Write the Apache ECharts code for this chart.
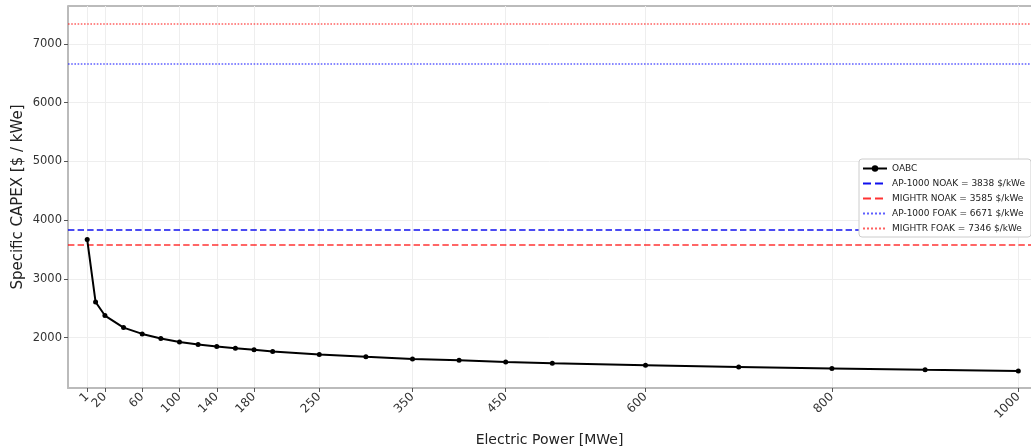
<!DOCTYPE html>
<html lang="en" style="height: 100%">
<head>
  <meta charset="utf-8">
</head>
<body style="height: 100%; margin: 0; background: #fff">
  <div id="container" style="width: 1031px; height: 448px"></div>

  <script type="text/javascript" src="https://fastly.jsdelivr.net/npm/echarts@6/dist/echarts.min.js"></script>
  <script type="text/javascript">
    // electric power [MWe] and specific capex [$/kWe] for the OABC curve
    var power = [1, 10, 20, 40, 60, 80, 100, 120, 140, 160, 180, 200, 250, 300, 350, 400, 450, 500, 600, 700, 800, 900, 1000];
    var capex = [3670, 2605, 2375, 2170, 2062, 1985, 1925, 1882, 1848, 1819, 1791, 1764, 1713, 1672, 1636, 1613, 1585, 1563, 1530, 1500, 1475, 1450, 1430];
    var xTicks = [1, 20, 60, 100, 140, 180, 250, 350, 450, 600, 800, 1000];
    var yTicks = [2000, 3000, 4000, 5000, 6000, 7000];

    // reference plants
    var refNames = ['AP-1000 NOAK', 'MIGHTR NOAK', 'AP-1000 FOAK', 'MIGHTR FOAK'];
    var refValues = [3838, 3585, 6671, 7346];
    var refColors = ['#1010ee', 'rgba(255,0,0,0.8)', 'rgba(40,40,255,0.75)', 'rgba(255,30,30,0.7)'];
    var refTypes = ['dashed', 'dashed', 'dotted', 'dotted'];

    var dom = document.getElementById('container');
    var myChart = echarts.init(dom, null, { renderer: 'canvas' });
    var font = 'DejaVu Sans';

    var series = [{
      name: 'OABC',
      type: 'line',
      data: power.map(function (p, i) { return [p, capex[i]]; }),
      symbol: 'circle',
      symbolSize: 5,
      itemStyle: { color: '#000' },
      lineStyle: { color: '#000', width: 2 },
      z: 5
    }];
    var legendData = [{ name: 'OABC' }];
    refNames.forEach(function (n, i) {
      var label = n + ' = ' + refValues[i] + ' $/kWe';
      legendData.push({ name: label, itemStyle: { opacity: 0 } });
      series.push({
        name: label,
        type: 'line',
        data: [],
        symbol: 'none',
        itemStyle: { color: refColors[i] },
        lineStyle: { color: refColors[i], type: refTypes[i], width: 1.6 },
        markLine: {
          silent: true,
          symbol: 'none',
          label: { show: false },
          lineStyle: { color: refColors[i], type: refTypes[i], width: 1.6 },
          data: [{ yAxis: refValues[i] }]
        }
      });
    });

    var option = {
      animation: false,
      textStyle: { fontFamily: font },
      grid: { left: 68, right: 0, top: 6, bottom: 60, containLabel: false, outerBoundsMode: 'none' },
      legend: {
        orient: 'vertical',
        left: 859,
        top: 159,
        z: 20,
        itemWidth: 24,
        itemHeight: 8,
        itemGap: 6,
        padding: [5, 6, 4, 3],
        borderColor: '#ccc',
        borderWidth: 1,
        borderRadius: 3,
        backgroundColor: '#fff',
        textStyle: { fontFamily: font, fontSize: 9, color: '#222' },
        data: legendData
      },
      xAxis: {
        type: 'value',
        min: -19.6,
        max: 1013.6,
        name: 'Electric Power [MWe]',
        nameLocation: 'middle',
        nameGap: 45,
        nameMoveOverlap: false,
        nameTextStyle: { fontFamily: font, fontSize: 14, color: '#222' },
        axisLine: { onZero: false, lineStyle: { color: '#bbb', width: 2 } },
        axisTick: { show: true, length: 4, customValues: xTicks, lineStyle: { color: '#555' } },
        axisLabel: {
          customValues: xTicks, rotate: 45, fontSize: 12, color: '#333', margin: 7,
          formatter: function (v) { return String(v); }
        },
        splitLine: { show: true, lineStyle: { color: '#eeeeee' } }
      },
      yAxis: {
        type: 'value',
        min: 1141,
        max: 7647,
        name: 'Specific CAPEX [$ / kWe]',
        nameLocation: 'middle',
        nameGap: 42,
        nameMoveOverlap: false,
        nameTextStyle: { fontFamily: font, fontSize: 15, color: '#222' },
        axisLine: { show: true, onZero: false, lineStyle: { color: '#bbb', width: 2 } },
        axisTick: { show: true, length: 4, customValues: yTicks, lineStyle: { color: '#555' } },
        axisLabel: {
          customValues: yTicks, fontSize: 11.5, color: '#333', margin: 6,
          formatter: function (v) { return String(v); }
        },
        splitLine: { show: true, lineStyle: { color: '#eeeeee' } }
      },
      graphic: [{
        type: 'line',
        shape: { x1: 68, y1: 6, x2: 1031, y2: 6 },
        style: { stroke: '#bbb', lineWidth: 2 }
      }],
      series: series
    };

    myChart.setOption(option);
    window.addEventListener('resize', myChart.resize);
  </script>
</body>
</html>
